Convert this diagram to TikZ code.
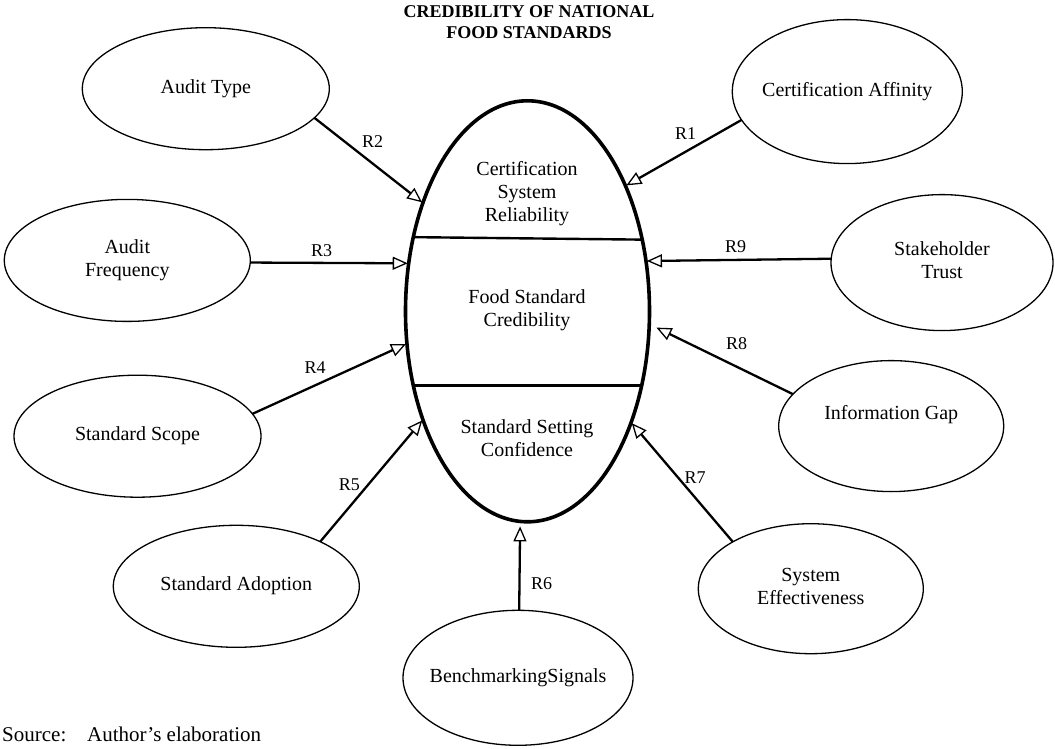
\documentclass[tikz,border=0pt]{standalone}
\usepackage{fontspec}
\setmainfont{Liberation Serif}
\usetikzlibrary{shapes.geometric,arrows.meta}
\begin{document}
\begin{tikzpicture}[x=1pt,y=-1pt,
  oval/.style={draw, ellipse, line width=1.3pt, inner sep=0pt, outer sep=0pt},
  core/.style={draw, ellipse, line width=3.6pt, inner sep=0pt, outer sep=0pt,
               minimum width=244pt, minimum height=421pt},
  txt/.style={font=\fontsize{20}{23}\selectfont, align=center, inner sep=0pt},
  rel/.style={font=\fontsize{18}{20}\selectfont, inner sep=0pt},
  link/.style={line width=2.3pt,
               -{Triangle[open, length=15pt, width=13pt, line width=1.3pt]},
               shorten >=1pt},
  divider/.style={line width=2.4pt}]
\useasboundingbox (0,0) rectangle (1055,749);

% title
\node[font=\fontsize{18}{21}\selectfont\bfseries, align=center, inner sep=0pt]
  (title) at (529,24.3) {CREDIBILITY OF NATIONAL\strut\\FOOD STANDARDS\strut};

% central construct with its three sections
\node[core] (cred) at (527.5,311.3) {};
\draw[divider] (cred.147.86) -- (cred.32.14);
\draw[divider] (cred.213.5) -- (cred.-33.5);
\node[txt] (csr) at (527,193.4) {Certification\strut\\System\strut\\Reliability\strut};
\node[txt] (fsc) at (527,310.1) {Food Standard\strut\\Credibility\strut};
\node[txt] (ssc) at (527,439.9) {Standard Setting\strut\\Confidence\strut};

% surrounding factors
\node[oval, minimum width=247pt, minimum height=122pt,
      label={[txt]center:Audit Type\strut}] (atype) at (205.8,88.7) {};
\node[oval, minimum width=246pt, minimum height=122pt,
      label={[txt]center:Audit\strut\\Frequency\strut}] (afreq) at (127.3,260.4) {};
\node[oval, minimum width=247pt, minimum height=122pt,
      label={[txt]center:Standard Scope\strut}] (sscope) at (137.5,436.2) {};
\node[oval, minimum width=246pt, minimum height=122pt,
      label={[txt]center:Standard Adoption\strut}] (sadopt) at (236.3,586.3) {};
\node[oval, minimum width=230pt, minimum height=144pt,
      label={[txt]center:Certification Affinity\strut}] (caff) at (847.3,91.6) {};
\node[oval, minimum width=222pt, minimum height=136pt,
      label={[txt]center:Stakeholder\strut\\Trust\strut}] (strust) at (942,262.6) {};
\node[oval, minimum width=225pt, minimum height=131pt,
      label={[txt, yshift=11pt]center:Information Gap\strut}] (igap) at (891.2,426.1) {};
\node[oval, minimum width=225pt, minimum height=130pt,
      label={[txt]center:System\strut\\Effectiveness\strut}] (seff) at (810.8,588.7) {};
\node[oval, minimum width=230pt, minimum height=135pt,
      label={[txt]center:BenchmarkingSignals\strut}] (bench) at (518,677.8) {};

% relations
\draw[link] (caff.195.6) -- (cred.52);
\draw[link] (atype.-15.3) -- (cred.134);
\draw[link] (afreq.-1.3) -- (cred.158);
\draw[link] (sscope.11.1) -- (cred.195.9);
\draw[link] (sadopt.28.4) -- (cred.226.6);
\draw[link, shorten >=5pt] (bench.89) -- (cred.268);
\draw[link] (seff.149.4) -- (cred.-47.3);
\draw[link, shorten >=8pt] (igap.162) -- (cred.-6.8);
\draw[link] (strust.178.9) -- (cred.23.2);

% relation labels
\node[rel] (r1) at (685.7,134) {R1};
\node[rel] (r2) at (372.7,142) {R2};
\node[rel] (r3) at (321.7,250.7) {R3};
\node[rel] (r4) at (315,367.5) {R4};
\node[rel] (r5) at (349.3,484.4) {R5};
\node[rel] (r6) at (541.7,583.3) {R6};
\node[rel] (r7) at (695,478) {R7};
\node[rel] (r8) at (736.7,343.5) {R8};
\node[rel] (r9) at (735.7,247) {R9};

% source line
\node[font=\fontsize{21}{25}\selectfont, anchor=base west, inner sep=0pt]
  (src) at (2,741) {\makebox[85pt][l]{Source:}Author’s elaboration};
\end{tikzpicture}
\end{document}
